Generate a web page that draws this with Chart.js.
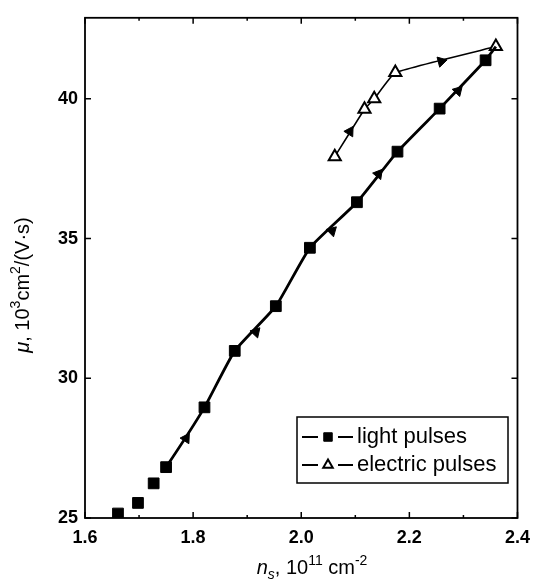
<!DOCTYPE html>
<html>
<head>
<meta charset="utf-8">
<script src="https://cdn.jsdelivr.net/npm/chart.js@4.4.1/dist/chart.umd.min.js"></script>
<style>
  html, body { margin: 0; padding: 0; background: #fff; }
  #wrap { width: 539px; height: 584px; }
</style>
</head>
<body>
<div id="wrap"><canvas id="mobilityChart" width="539" height="584"></canvas></div>
<script>
// ---------------- DATA ----------------
const lightX = [1.661, 1.698, 1.727, 1.750, 1.821, 1.877, 1.953, 2.016, 2.103, 2.178, 2.256, 2.341];
const lightY = [25.16, 25.54, 26.24, 26.82, 28.96, 30.98, 32.58, 34.67, 36.30, 38.11, 39.65, 41.38];
const elecX = [2.062, 2.117, 2.135, 2.174, 2.360];
const elecY = [37.93, 39.63, 40.00, 40.94, 41.87];
// direction arrowheads drawn on the curves
const arrowX = [1.787, 1.916, 2.057, 2.143, 2.290, 2.090, 2.259];
const arrowY = [27.85, 31.65, 35.27, 37.31, 40.29, 38.83, 41.34];
const arrowOn = ["light", "light", "light", "light", "light", "elec", "elec"];
const xTicks = [1.6, 1.8, 2.0, 2.2, 2.4];
const xMinor = [1.7, 1.9, 2.1, 2.3];
const yTicks = [25, 30, 35, 40];
const labels = ["light pulses", "electric pulses"];

const FONT = "'Liberation Sans', Arial, sans-serif";
const toPts = (xs, ys) => xs.map((x, i) => ({ x: x, y: ys[i] }));

// path each arrow sits on (light curve ends at the last electric point)
const paths = {
  light: toPts(lightX.slice(3), lightY.slice(3)).concat([{ x: elecX[elecX.length - 1], y: elecY[elecY.length - 1] }]),
  elec: toPts(elecX, elecY)
};

function arrowRotation(ctx) {
  const chart = ctx.chart, i = ctx.dataIndex;
  const sx = chart.scales.x, sy = chart.scales.y;
  if (!sx || !sy || i == null) return 0;
  const pts = paths[arrowOn[i]];
  let a = pts[0], b = pts[1];
  for (let k = 0; k < pts.length - 1; k++) {
    if (arrowX[i] >= pts[k].x && arrowX[i] <= pts[k + 1].x) { a = pts[k]; b = pts[k + 1]; break; }
  }
  // point toward higher x
  const dx = sx.getPixelForValue(b.x) - sx.getPixelForValue(a.x);
  const dy = sy.getPixelForValue(b.y) - sy.getPixelForValue(a.y);
  return Math.atan2(dx, -dy) * 180 / Math.PI;
}

// ---------------- RICH TEXT ----------------
function drawRich(c, parts, cx, baseline) {
  const size = 20, small = 14;
  const fontOf = p => (p.italic ? "italic " : "") + (p.sup || p.sub ? small : size) + "px " + FONT;
  let total = 0;
  parts.forEach(p => { c.font = fontOf(p); total += c.measureText(p.t).width; });
  let x = cx - total / 2;
  c.textAlign = "left";
  c.textBaseline = "alphabetic";
  parts.forEach(p => {
    c.font = fontOf(p);
    const dy = p.sup ? -9 : p.sub ? 5 : 0;
    c.fillText(p.t, x, baseline + dy);
    x += c.measureText(p.t).width;
  });
}

// ---------------- FRAME / TITLES / LEGEND ----------------
const decorPlugin = {
  id: "decor",
  afterDraw(chart) {
    const c = chart.ctx, a = chart.chartArea;
    const sx = chart.scales.x, sy = chart.scales.y;
    c.save();
    c.strokeStyle = "#000";
    c.fillStyle = "#000";
    c.lineWidth = 1.8;
    c.strokeRect(a.left, a.top, a.right - a.left, a.bottom - a.top);

    c.lineWidth = 1.5;
    c.beginPath();
    xTicks.forEach(v => {
      const p = sx.getPixelForValue(v);
      c.moveTo(p, a.bottom); c.lineTo(p, a.bottom - 6);
      c.moveTo(p, a.top); c.lineTo(p, a.top + 6);
    });
    xMinor.forEach(v => {
      const p = sx.getPixelForValue(v);
      c.moveTo(p, a.bottom); c.lineTo(p, a.bottom - 3);
      c.moveTo(p, a.top); c.lineTo(p, a.top + 3);
    });
    yTicks.forEach(v => {
      const p = sy.getPixelForValue(v);
      c.moveTo(a.left, p); c.lineTo(a.left + 6, p);
      c.moveTo(a.right, p); c.lineTo(a.right - 6, p);
    });
    c.stroke();

    // axis titles
    drawRich(c, [
      { t: "n", italic: true }, { t: "s", italic: true, sub: true }, { t: ", 10" },
      { t: "11", sup: true }, { t: " cm" }, { t: "-2", sup: true }
    ], 312, 574);
    c.save();
    c.translate(29, 285);
    c.rotate(-Math.PI / 2);
    drawRich(c, [
      { t: "\u03bc", italic: true }, { t: ", 10" }, { t: "3", sup: true },
      { t: "cm" }, { t: "2", sup: true }, { t: "/(V\u00b7s)" }
    ], 0, 0);
    c.restore();

    // legend box
    const bx = 297, by = 417, bw = 211, bh = 66;
    c.lineWidth = 1.5;
    c.strokeRect(bx, by, bw, bh);
    const rows = [437, 465];
    [1, 2].forEach((di, r) => {
      const ds = chart.data.datasets[di];
      const y = rows[r];
      c.lineWidth = 1.8;
      c.beginPath();
      c.moveTo(302, y); c.lineTo(318, y);
      c.moveTo(338, y); c.lineTo(353, y);
      c.stroke();
      c.fillStyle = ds.pointBackgroundColor;
      c.strokeStyle = "#000";
      c.lineWidth = ds.pointBorderWidth;
      Chart.helpers.drawPoint(c, { pointStyle: ds.pointStyle, radius: r === 0 ? 6 : 5.5, rotation: 0, borderWidth: ds.pointBorderWidth }, 328, y);
      c.fillStyle = "#000";
      c.font = "22px " + FONT;
      c.textAlign = "left";
      c.textBaseline = "middle";
      c.fillText(labels[r], 357, y);
    });
    c.restore();
  }
};

// ---------------- CHART ----------------
const ctx = document.getElementById("mobilityChart").getContext("2d");
new Chart(ctx, {
  type: "scatter",
  data: {
    datasets: [
      {
        label: "link",
        data: [
          { x: lightX[lightX.length - 1], y: lightY[lightY.length - 1] },
          { x: elecX[elecX.length - 1], y: elecY[elecY.length - 1] }
        ],
        showLine: true,
        borderColor: "#000",
        borderWidth: 2.8,
        pointRadius: 0
      },
      {
        label: labels[0],
        data: toPts(lightX, lightY),
        showLine: true,
        borderColor: "#000",
        borderWidth: 2.8,
        tension: 0.15,
        segment: { borderColor: s => (s.p0DataIndex < 3 ? "rgba(0,0,0,0)" : "#000") },
        pointStyle: "rect",
        pointRadius: 7.6,
        pointBackgroundColor: "#000",
        pointBorderColor: "#000",
        pointBorderWidth: 1
      },
      {
        label: labels[1],
        data: toPts(elecX, elecY),
        showLine: true,
        borderColor: "#000",
        borderWidth: 1.6,
        tension: 0.1,
        pointStyle: "triangle",
        pointRadius: 7,
        pointBackgroundColor: "#fff",
        pointBorderColor: "#000",
        pointBorderWidth: 2
      },
      {
        label: "arrows",
        data: toPts(arrowX, arrowY),
        showLine: false,
        pointStyle: "triangle",
        pointRadius: 6,
        pointRotation: arrowRotation,
        pointBackgroundColor: "#000",
        pointBorderColor: "#000",
        pointBorderWidth: 1
      }
    ]
  },
  options: {
    responsive: false,
    animation: false,
    layout: { padding: { left: 0, right: 19, top: 8, bottom: 0 } },
    plugins: { legend: { display: false }, tooltip: { enabled: false } },
    scales: {
      x: {
        type: "linear",
        min: 1.6,
        max: 2.4,
        afterBuildTicks: s => { s.ticks = xTicks.map(v => ({ value: v })); },
        afterFit: s => { s.height = 66; },
        grid: { display: false, drawTicks: false },
        border: { display: false },
        ticks: {
          padding: 9,
          color: "#000",
          font: { family: FONT, size: 18, weight: "bold" },
          callback: v => v.toFixed(1)
        }
      },
      y: {
        type: "linear",
        min: 25,
        max: 42.9,
        afterBuildTicks: s => { s.ticks = yTicks.map(v => ({ value: v })); },
        afterFit: s => { s.width = 85; },
        grid: { display: false, drawTicks: false },
        border: { display: false },
        ticks: {
          padding: 7,
          color: "#000",
          font: { family: FONT, size: 18, weight: "bold" },
          callback: v => String(v)
        }
      }
    }
  },
  plugins: [decorPlugin]
});
</script>
</body>
</html>
